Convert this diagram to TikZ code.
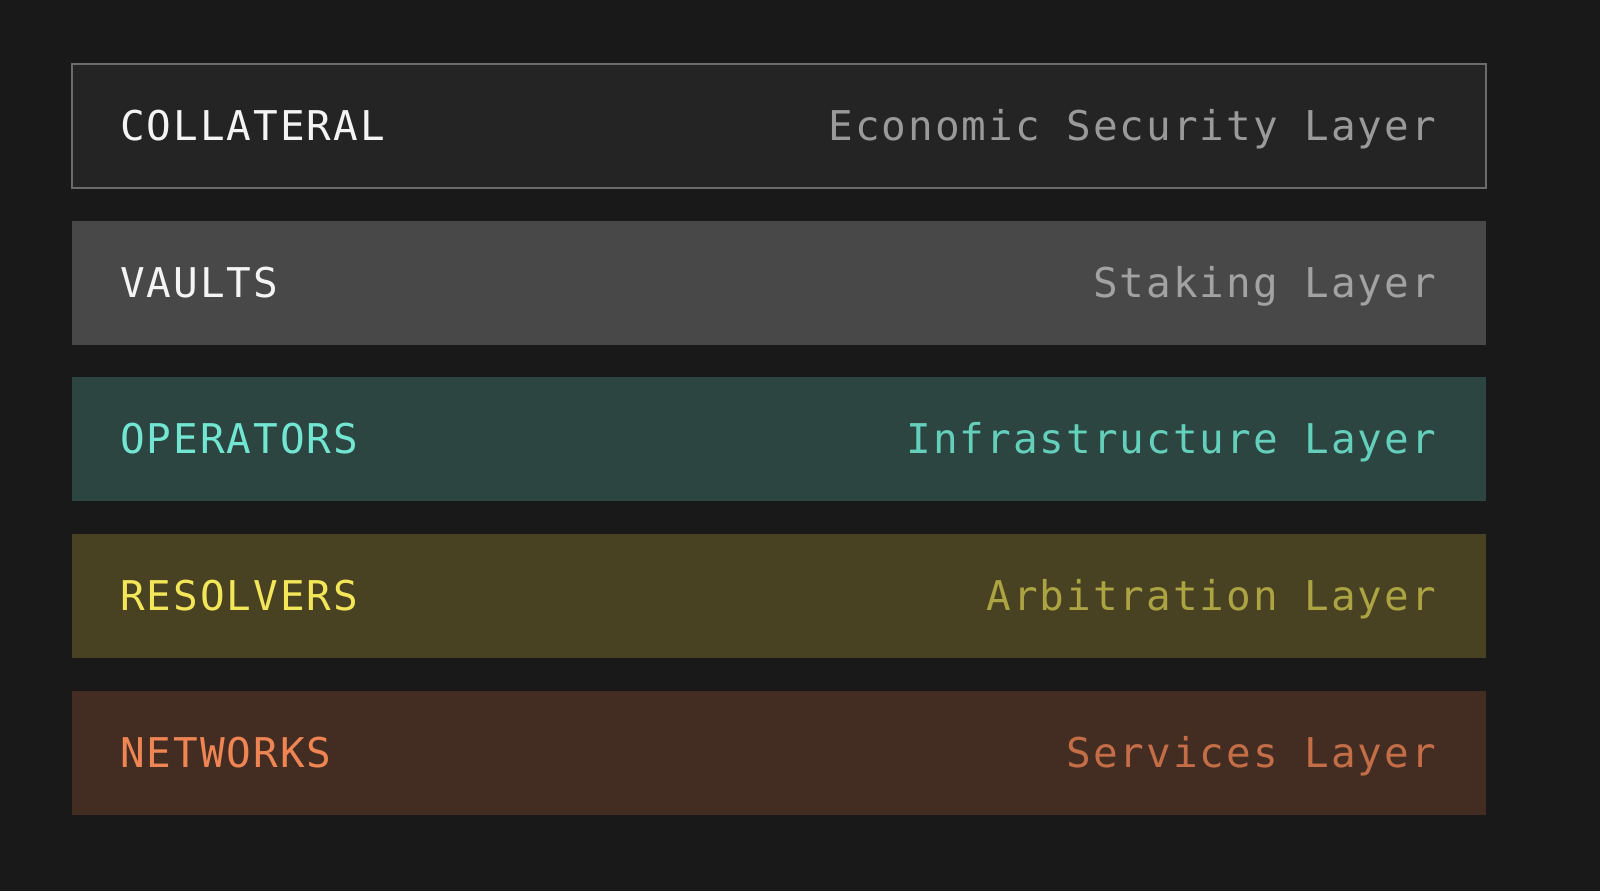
\documentclass[tikz,border=0pt]{standalone}
\usepackage{fontspec}
\newfontfamily\monofnt[LetterSpace=4.8]{DejaVu Sans Mono}
\definecolor{bgc}{HTML}{191919}
\definecolor{fillA}{HTML}{242424}
\definecolor{edgeA}{HTML}{6B6B6B}
\definecolor{fillB}{HTML}{484848}
\definecolor{fillC}{HTML}{2C4541}
\definecolor{fillD}{HTML}{484122}
\definecolor{fillE}{HTML}{432C22}
\definecolor{txtA}{HTML}{F4F4F4}
\definecolor{subA}{HTML}{9A9A9A}
\definecolor{subB}{HTML}{A2A2A2}
\definecolor{txtC}{HTML}{72E6D2}
\definecolor{subC}{HTML}{64D0BB}
\definecolor{txtD}{HTML}{F4E659}
\definecolor{subD}{HTML}{ACA343}
\definecolor{txtE}{HTML}{EE8552}
\definecolor{subE}{HTML}{C46E47}
\begin{document}
\begin{tikzpicture}[x=1pt,y=1pt,
  layerbox/.style={minimum width=1414pt,minimum height=124pt,inner sep=0pt,outer sep=0pt,anchor=north west,draw=none},
  maintxt/.style={font=\monofnt\fontsize{41}{41}\selectfont,inner sep=0pt,anchor=base west},
  subtxt/.style={font=\monofnt\fontsize{41}{41}\selectfont,inner sep=0pt,anchor=base east}]
\useasboundingbox (0,0) rectangle (1600,891);
\fill[bgc] (0,0) rectangle (1600,891);
% boxes: top y (image) 64,221,377,534,691 -> tikz y = 891 - top
\node[layerbox,fill=fillA,draw=edgeA,line width=1.5pt] (b1) at (72,827) {};
\node[layerbox,fill=fillB] (b2) at (72,670) {};
\node[layerbox,fill=fillC] (b3) at (72,514) {};
\node[layerbox,fill=fillD] (b4) at (72,357) {};
\node[layerbox,fill=fillE] (b5) at (72,200) {};
% texts
\node[maintxt,text=txtA] (t1) at ([xshift=48pt,yshift=-15pt]b1.west) {COLLATERAL};
\node[subtxt,text=subA] (s1) at ([xshift=-50pt,yshift=-15pt]b1.east) {Economic Security Layer};
\node[maintxt,text=txtA] (t2) at ([xshift=48pt,yshift=-15pt]b2.west) {VAULTS};
\node[subtxt,text=subB] (s2) at ([xshift=-50pt,yshift=-15pt]b2.east) {Staking Layer};
\node[maintxt,text=txtC] (t3) at ([xshift=48pt,yshift=-15pt]b3.west) {OPERATORS};
\node[subtxt,text=subC] (s3) at ([xshift=-50pt,yshift=-15pt]b3.east) {Infrastructure Layer};
\node[maintxt,text=txtD] (t4) at ([xshift=48pt,yshift=-15pt]b4.west) {RESOLVERS};
\node[subtxt,text=subD] (s4) at ([xshift=-50pt,yshift=-15pt]b4.east) {Arbitration Layer};
\node[maintxt,text=txtE] (t5) at ([xshift=48pt,yshift=-15pt]b5.west) {NETWORKS};
\node[subtxt,text=subE] (s5) at ([xshift=-50pt,yshift=-15pt]b5.east) {Services Layer};
\end{tikzpicture}
\end{document}
